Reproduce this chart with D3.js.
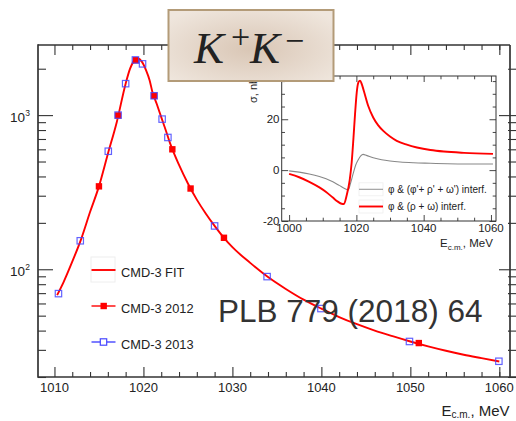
<!DOCTYPE html>
<html><head><meta charset="utf-8">
<script src="https://cdn.jsdelivr.net/npm/d3@7"></script>
<style>body{margin:0;background:#fff}svg{display:block}</style>
</head><body><svg id="c" width="516" height="421"></svg>
<script>
// ---------------- data ----------------
const fitE = [1010.3, 1011, 1012, 1013, 1014, 1015, 1016, 1017, 1018, 1018.5, 1019, 1019.4, 1019.8, 1020.3, 1020.7, 1021, 1021.5, 1022, 1022.5, 1023, 1024, 1025, 1026, 1027, 1028, 1029, 1030, 1032, 1034, 1036, 1038, 1040, 1042, 1044, 1046, 1048, 1050, 1052, 1054, 1056, 1058, 1060];
const fitSigma = [68, 82, 112, 157, 235, 345, 560, 900, 1600, 2000, 2270, 2330, 2230, 1950, 1680, 1420, 1180, 970, 800, 655, 475, 360, 283, 230, 191, 161, 139, 110, 89, 74.5, 63.5, 55.5, 49, 44, 40, 36.8, 34, 31.6, 29.6, 27.9, 26.5, 25.2];

const cmd2012E = [1015.0, 1017.15, 1019.15, 1021.2, 1023.25, 1025.3, 1029.05, 1050.95];
const cmd2012Sigma = [345, 995, 2270, 1335, 600, 334, 160, 33.2];

const cmd2013E = [1010.45, 1012.9, 1016.05, 1017.15, 1018.0, 1019.1, 1019.9, 1021.2, 1022.1, 1022.75, 1028.0, 1033.9, 1039.95, 1049.9, 1059.95];
const cmd2013Sigma = [69.5, 153, 583, 1000, 1600, 2280, 2150, 1335, 942, 716, 191, 89.6, 55.6, 34.0, 25.3];

const legendLabels = ["CMD-3 FIT", "CMD-3 2012", "CMD-3 2013"];

const xMajorTicks = [1010, 1020, 1030, 1040, 1050, 1060];
const xMinorTicks = [1012, 1014, 1016, 1018, 1022, 1024, 1026, 1028, 1032, 1034, 1036, 1038, 1042, 1044, 1046, 1048, 1052, 1054, 1056, 1058, 1060];
const yMajorTicks = [100, 1000];
const yMajorExp = ["2", "3"];
const yMinorTicks = [20, 30, 40, 50, 60, 70, 80, 90, 200, 300, 400, 500, 600, 700, 800, 900, 2000];

// inset: interference contributions
const insetGrayE = [1000, 1003, 1006, 1009, 1011, 1013, 1015, 1016.5, 1017.6, 1018.3, 1019.1, 1019.8, 1020.6, 1021.3, 1022.0, 1023, 1025, 1027.5, 1030, 1033, 1037, 1042, 1047, 1053, 1060.6];
const insetGrayV = [-0.3, -0.8, -1.5, -2.5, -3.4, -4.6, -6.1, -7.2, -7.8, -5.0, -1.1, 2.0, 4.2, 5.6, 6.2, 5.8, 4.9, 4.1, 3.6, 3.2, 2.9, 2.7, 2.5, 2.4, 2.4];
const insetRedE = [1000, 1003, 1006, 1009, 1011, 1013, 1014.5, 1015.6, 1016.3, 1017.1, 1018.0, 1018.6, 1019.1, 1019.6, 1020.1, 1020.6, 1021.1, 1021.6, 1022.2, 1023.5, 1025, 1026.5, 1028, 1030, 1032, 1035, 1038, 1042, 1046, 1052, 1060.6];
const insetRedV = [-1.5, -2.8, -4.6, -6.8, -8.6, -10.8, -12.4, -13.2, -13.3, -10.0, -4.0, 3, 12, 22, 30.5, 34.5, 35.2, 33.8, 31.2, 25.3, 20.7, 17.6, 15.4, 13.2, 11.5, 10.0, 8.9, 7.9, 7.3, 6.8, 6.4];
const insetLegend = ["φ & (φ'+ ρ' + ω') interf.", "φ & (ρ + ω) interf."];
const insetXMajor = [1000, 1020, 1040, 1060];
const insetXMinor = [1005, 1010, 1015, 1025, 1030, 1035, 1045, 1050, 1055];
const insetYMajor = [-20, 0, 20];
const insetYMinor = [-15, -10, -5, 5, 10, 15, 25, 30, 35];

// ---------------- drawing ----------------
const FONT = "'Liberation Sans', Arial, Helvetica, sans-serif";
const AX = "#333";
const RED = "#ff0000";
const BLUE = "#4646ff";
const svg = d3.select("#c").style("font-family", FONT);

const x = d3.scaleLinear().domain([1008.15, 1061.2]).range([38, 510]);
const y = d3.scaleLog().domain([20, 2850]).range([377, 45]);
const L = 38, R = 510, T = 45, B = 377;

function tickGroup(axisFn, scale, values, size, tx, ty) {
  const g = svg.append("g").attr("transform", `translate(${tx},${ty})`)
    .call(axisFn(scale).tickValues(values).tickSize(size).tickFormat(""));
  g.select(".domain").remove();
  g.selectAll("line").attr("stroke", AX).attr("stroke-width", 1.1);
  return g;
}

// main ticks
tickGroup(d3.axisBottom, x, xMajorTicks, -10, 0, B);
tickGroup(d3.axisBottom, x, xMinorTicks, -5, 0, B);
tickGroup(d3.axisTop, x, xMajorTicks, -10, 0, T);
tickGroup(d3.axisTop, x, xMinorTicks, -5, 0, T);
tickGroup(d3.axisLeft, y, yMajorTicks, -15, L, 0);
tickGroup(d3.axisLeft, y, yMinorTicks, -8, L, 0);
tickGroup(d3.axisRight, y, yMajorTicks, -17, 516, 0);
tickGroup(d3.axisRight, y, yMinorTicks, -8, 516, 0);

// main frame
const fr = svg.append("g").attr("stroke", AX).attr("stroke-width", 1.7).attr("fill", "none");
fr.append("line").attr("x1", L).attr("x2", L).attr("y1", T - 0.8).attr("y2", B + 0.8);
fr.append("line").attr("x1", L).attr("x2", 516).attr("y1", B).attr("y2", B);
fr.append("line").attr("x1", L).attr("x2", R).attr("y1", T).attr("y2", T);
fr.append("line").attr("x1", R).attr("x2", R).attr("y1", T).attr("y2", B);

// x tick labels
svg.append("g").selectAll("text").data(xMajorTicks).join("text")
  .attr("x", d => x(d)).attr("y", 392).attr("text-anchor", "middle")
  .attr("font-size", 13).attr("fill", "#222").text(d => d);

// y tick labels 10^n
const yl = svg.append("g");
yMajorTicks.forEach((v, i) => {
  yl.append("text").attr("x", 25).attr("y", y(v) + 6.5).attr("text-anchor", "end")
    .attr("font-size", 13.5).attr("fill", "#222").text("10");
  yl.append("text").attr("x", 25.3).attr("y", y(v) + 1).attr("text-anchor", "start")
    .attr("font-size", 8.5).attr("fill", "#222").text(yMajorExp[i]);
});

// x axis title
const xt = svg.append("text").attr("x", 441.5).attr("y", 415.5).attr("font-size", 15).attr("fill", "#222");
xt.append("tspan").text("E");
xt.append("tspan").attr("font-size", 10).attr("dy", 2.8).text("c.m.");
xt.append("tspan").attr("dy", -2.8).text(", MeV");

// fit line
const line = d3.line().x(d => x(d[0])).y(d => y(d[1])).curve(d3.curveMonotoneX);
svg.append("path").datum(fitE.map((e, i) => [e, fitSigma[i]]))
  .attr("d", line).attr("fill", "none").attr("stroke", RED).attr("stroke-width", 1.9);

// 2012 points (red filled)
svg.append("g").selectAll("rect").data(cmd2012E.map((e, i) => [e, cmd2012Sigma[i]])).join("rect")
  .attr("x", d => x(d[0]) - 3.2).attr("y", d => y(d[1]) - 3.2)
  .attr("width", 6.4).attr("height", 6.4).attr("fill", RED);

// 2013 points (blue open)
svg.append("g").selectAll("rect").data(cmd2013E.map((e, i) => [e, cmd2013Sigma[i]])).join("rect")
  .attr("x", d => x(d[0]) - 3.2).attr("y", d => y(d[1]) - 3.2)
  .attr("width", 6.4).attr("height", 6.4).attr("fill", "none")
  .attr("stroke", BLUE).attr("stroke-width", 1.2).attr("stroke-opacity", 0.85);

// legend
const lg = svg.append("g");
const rowsY = [270, 306, 342];
lg.append("rect").attr("x", 91).attr("y", 257).attr("width", 24).attr("height", 25)
  .attr("fill", "none").attr("stroke", "#eee").attr("stroke-width", 1);
rowsY.forEach((ry, i) => {
  lg.append("line").attr("x1", 91.5).attr("x2", 115.5).attr("y1", ry).attr("y2", ry)
    .attr("stroke", i === 2 ? BLUE : RED).attr("stroke-width", i === 0 ? 1.9 : 1.4);
  if (i === 1) lg.append("rect").attr("x", 100.5).attr("y", ry - 3.2).attr("width", 6.4).attr("height", 6.4).attr("fill", RED);
  if (i === 2) lg.append("rect").attr("x", 100.3).attr("y", ry - 3.2).attr("width", 6.4).attr("height", 6.4)
    .attr("fill", "#fff").attr("stroke", BLUE).attr("stroke-width", 1.2);
  lg.append("text").attr("x", 121).attr("y", ry + 6.7).attr("font-size", 12.8).attr("fill", "#222").text(legendLabels[i]);
});

// reference text
svg.append("text").attr("x", 218).attr("y", 321.5).attr("font-size", 31.5).attr("fill", "#333")
  .text("PLB 779 (2018) 64");

// ---------------- inset ----------------
const ix = d3.scaleLinear().domain([997.8, 1061.5]).range([281.7, 496]);
const iy = d3.scaleLinear().domain([-20, 37]).range([221, 76]);
const IL = 281.7, IR = 496, IT = 76, IB = 221;

svg.append("rect").attr("x", 244).attr("y", 72).attr("width", 254).attr("height", 182).attr("fill", "#fff");

function itick(axisFn, scale, values, size, tx, ty) {
  const g = svg.append("g").attr("transform", `translate(${tx},${ty})`)
    .call(axisFn(scale).tickValues(values).tickSize(size).tickFormat(""));
  g.select(".domain").remove();
  g.selectAll("line").attr("stroke", AX).attr("stroke-width", 0.9);
}
itick(d3.axisBottom, ix, insetXMajor, -6, 0, IB);
itick(d3.axisBottom, ix, insetXMinor, -3.3, 0, IB);
itick(d3.axisTop, ix, insetXMajor, -6, 0, IT);
itick(d3.axisTop, ix, insetXMinor, -3.3, 0, IT);
itick(d3.axisLeft, iy, insetYMajor, -6.5, IL, 0);
itick(d3.axisLeft, iy, insetYMinor, -3.3, IL, 0);
itick(d3.axisRight, iy, insetYMajor, -6.5, IR, 0);
itick(d3.axisRight, iy, insetYMinor, -3.3, IR, 0);

svg.append("rect").attr("x", IL).attr("y", IT).attr("width", IR - IL).attr("height", IB - IT)
  .attr("fill", "none").attr("stroke", AX).attr("stroke-width", 1);

const iline = d3.line().x(d => ix(d[0])).y(d => iy(d[1])).curve(d3.curveMonotoneX);
svg.append("path").datum(insetGrayE.map((e, i) => [e, insetGrayV[i]]))
  .attr("d", iline).attr("fill", "none").attr("stroke", "#888").attr("stroke-width", 1.1);
svg.append("path").datum(insetRedE.map((e, i) => [e, insetRedV[i]]))
  .attr("d", iline).attr("fill", "none").attr("stroke", RED).attr("stroke-width", 1.9);

// inset tick labels
svg.append("g").selectAll("text").data(insetXMajor).join("text")
  .attr("x", d => ix(d)).attr("y", 232).attr("text-anchor", "middle")
  .attr("font-size", 11.5).attr("fill", "#222").text(d => d);
svg.append("g").selectAll("text").data(insetYMajor).join("text")
  .attr("x", 279.5).attr("y", d => iy(d) + 4).attr("text-anchor", "end")
  .attr("font-size", 11.5).attr("fill", "#222").text(d => d);

// inset axis titles
const it = svg.append("text").attr("x", 440).attr("y", 247.3).attr("font-size", 11.5).attr("fill", "#222");
it.append("tspan").text("E");
it.append("tspan").attr("font-size", 8).attr("dy", 3).text("c.m.");
it.append("tspan").attr("dy", -3).text(", MeV");
svg.append("text").attr("transform", "translate(257,103) rotate(-90)")
  .attr("font-size", 11).attr("fill", "#222").text("σ, nb");

// inset legend
const ilg = svg.append("g");
[189.3, 206.5].forEach((ly, i) => {
  ilg.append("rect").attr("x", 359).attr("y", ly - 6.5).attr("width", 24).attr("height", 13)
    .attr("fill", "none").attr("stroke", "#eee").attr("stroke-width", 0.8);
  ilg.append("line").attr("x1", 359).attr("x2", 383).attr("y1", ly).attr("y2", ly)
    .attr("stroke", i === 0 ? "#999" : RED).attr("stroke-width", i === 0 ? 1.1 : 1.9);
  ilg.append("text").attr("x", 388).attr("y", ly + 3.6).attr("font-size", 10).attr("fill", "#222")
    .text(insetLegend[i]);
});

// ---------------- K+K- label box ----------------
const defs = svg.append("defs");
const rg = defs.append("radialGradient").attr("id", "kg").attr("cx", "50%").attr("cy", "55%").attr("r", "65%");
rg.append("stop").attr("offset", "0%").attr("stop-color", "#d9c6b5");
rg.append("stop").attr("offset", "100%").attr("stop-color", "#efe6dd");
svg.append("rect").attr("x", 168.5).attr("y", 10).attr("width", 165).attr("height", 71)
  .attr("fill", "url(#kg)").attr("stroke", "#b39b78").attr("stroke-width", 2);
const SERIF = "'Liberation Serif', 'Times New Roman', serif";
const kg = svg.append("g").attr("font-family", SERIF).attr("fill", "#222");
kg.append("text").attr("x", 194).attr("y", 62.5).attr("font-size", 45).attr("font-style", "italic").text("K");
kg.append("text").attr("x", 231).attr("y", 48).attr("font-size", 34).text("+");
kg.append("text").attr("x", 250).attr("y", 62.5).attr("font-size", 45).attr("font-style", "italic").text("K");
kg.append("text").attr("x", 285).attr("y", 52).attr("font-size", 34).text("−");
</script></body></html>
